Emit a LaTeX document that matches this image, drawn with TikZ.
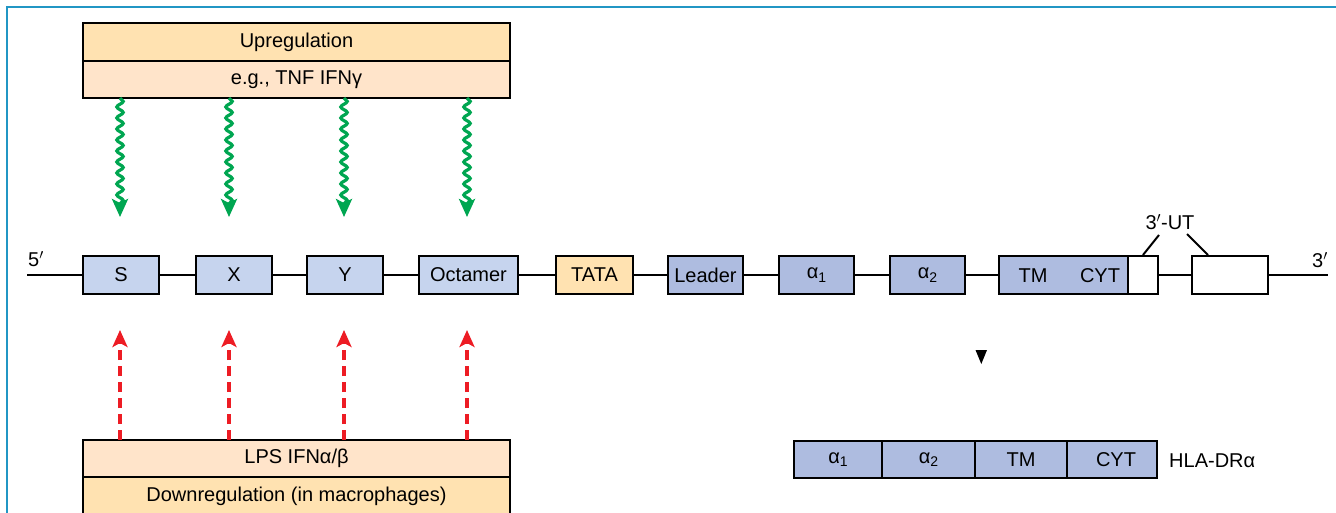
\documentclass[tikz,border=0pt]{standalone}
\usepackage{fontspec}
\setmainfont{Liberation Sans}
\usetikzlibrary{arrows.meta,decorations.pathmorphing}
\definecolor{framecol}{HTML}{2196C4}
\definecolor{orA}{HTML}{FFE2B1}
\definecolor{orB}{HTML}{FFE4CA}
\definecolor{bluA}{HTML}{C6D4EE}
\definecolor{bluB}{HTML}{AEBCE0}
\definecolor{upg}{HTML}{00A651}
\definecolor{dnr}{HTML}{ED1C24}
\newcommand{\subn}[1]{\raisebox{-0.35ex}{\fontsize{14}{16}\selectfont #1}}
\begin{document}
\begin{tikzpicture}[x=1pt,y=-1pt,
  txt/.style={font=\fontsize{20}{23}\selectfont, inner sep=0pt},
  regbox/.style={draw=black, line width=2pt, rectangle, inner sep=0pt, minimum width=427pt, font=\fontsize{20}{23}\selectfont},
  genebox/.style={draw=black, line width=2pt, rectangle, inner sep=0pt, minimum height=38pt, font=\fontsize{20}{23}\selectfont},
  protbox/.style={draw=black, line width=2pt, rectangle, inner sep=0pt, minimum height=37pt, fill=bluB, font=\fontsize{20}{23}\selectfont},
  uparrow/.style={draw=upg, line width=3.2pt, decorate,
    decoration={snake, segment length=11pt, amplitude=3.2pt, post length=8pt},
    -{Stealth[length=18pt, width=16pt, inset=4pt]}},
  downarrow/.style={draw=dnr, line width=3.4pt, dash pattern=on 10pt off 6pt,
    -{Stealth[length=17pt, width=15pt, inset=4pt]}},
  thinline/.style={draw=black, line width=2pt}
]
\useasboundingbox (0,0) rectangle (1336,513);

% frame
\draw[framecol, line width=2.2pt] (7,514) -- (7,7) -- (1337,7);

% top regulation box
\node[regbox, fill=orA, minimum height=38pt] (up1) at (296.5,42) {Upregulation};
\node[regbox, fill=orB, minimum height=37pt] (up2) at (296.5,79.5) {e.g., TNF IFNγ};

% bottom regulation box
\node[regbox, fill=orB, minimum height=37pt] (dn1) at (296.5,458.5) {LPS IFNα/β};
\node[regbox, fill=orA, minimum height=38pt] (dn2) at (296.5,496) {Downregulation (in macrophages)};

% gene line
\coordinate (l5) at (27,275);
\coordinate (r3) at (1328,275);
\draw[thinline] (l5) -- (r3);
\node[txt] (five) at (36,259) {5$'$};
\node[txt] (three) at (1320,260) {3$'$};

% gene boxes
\node[genebox, fill=bluA, minimum width=76pt] (S) at (121,275) {S};
\node[genebox, fill=bluA, minimum width=76pt] (X) at (234,275) {X};
\node[genebox, fill=bluA, minimum width=76pt] (Y) at (345,275) {Y};
\node[genebox, fill=bluA, minimum width=99pt] (Oct) at (468.5,275) {Octamer};
\node[genebox, fill=orA, minimum width=77pt] (TATA) at (594.5,275) {TATA};
\node[genebox, fill=bluB, minimum width=75pt] (Lead) at (705.5,275) {Leader};
\node[genebox, fill=bluB, minimum width=75pt] (a1) at (816.5,275) {α\subn{1}};
\node[genebox, fill=bluB, minimum width=75pt] (a2) at (927.5,275) {α\subn{2}};
\node[genebox, fill=bluB, minimum width=129pt] (TMC) at (1063.5,275) {};
\node[txt] (tmlab) at (1033,276) {TM};
\node[txt] (cytlab) at (1100,276) {CYT};
\node[genebox, fill=white, minimum width=30pt] (ut1) at (1143,275) {};
\node[genebox, fill=white, minimum width=76pt] (ut2) at (1230,275) {};

% 3'-UT label
\node[txt] (utlab) at (1170,222) {3$'$-UT};
\coordinate (ut1t) at (1159,235);
\coordinate (ut2t) at (1187,234);
\draw[thinline] (ut1.north) -- (ut1t);
\draw[thinline] ([xshift=17pt]ut2.north west) -- (ut2t);

% upregulation arrows
\coordinate (us) at (120,98);  \coordinate (ue) at (120,217);
\coordinate (ux) at (229,98);  \coordinate (uxe) at (229,217);
\coordinate (uy) at (344,98);  \coordinate (uye) at (344,217);
\coordinate (uo) at (467,98);  \coordinate (uoe) at (467,217);
\draw[uparrow] (us) -- (ue);
\draw[uparrow] (ux) -- (uxe);
\draw[uparrow] (uy) -- (uye);
\draw[uparrow] (uo) -- (uoe);

% downregulation arrows
\coordinate (ds) at (120,440);  \coordinate (dse) at (120,330);
\coordinate (dx) at (229,440);  \coordinate (dxe) at (229,330);
\coordinate (dy) at (344,440);  \coordinate (dye) at (344,330);
\coordinate (do) at (467,440);  \coordinate (doe) at (467,330);
\draw[downarrow] (ds) -- (dse);
\draw[downarrow] (dx) -- (dxe);
\draw[downarrow] (dy) -- (dye);
\draw[downarrow] (do) -- (doe);

% small triangle
\fill[black] (975.5,350) -- (987,350) -- (981.3,364) -- cycle;

% protein
\node[protbox, minimum width=88pt] (h1) at (838,459.5) {α\subn{1}};
\node[protbox, minimum width=93pt] (h2) at (928.5,459.5) {α\subn{2}};
\node[protbox, minimum width=92pt] (h3) at (1021,459.5) {TM};
\node[protbox, minimum width=90pt] (h4) at (1112,459.5) {\hspace*{8pt}CYT};
\node[txt, anchor=west] (hla) at (1169,461) {HLA-DRα};
\end{tikzpicture}
\end{document}
